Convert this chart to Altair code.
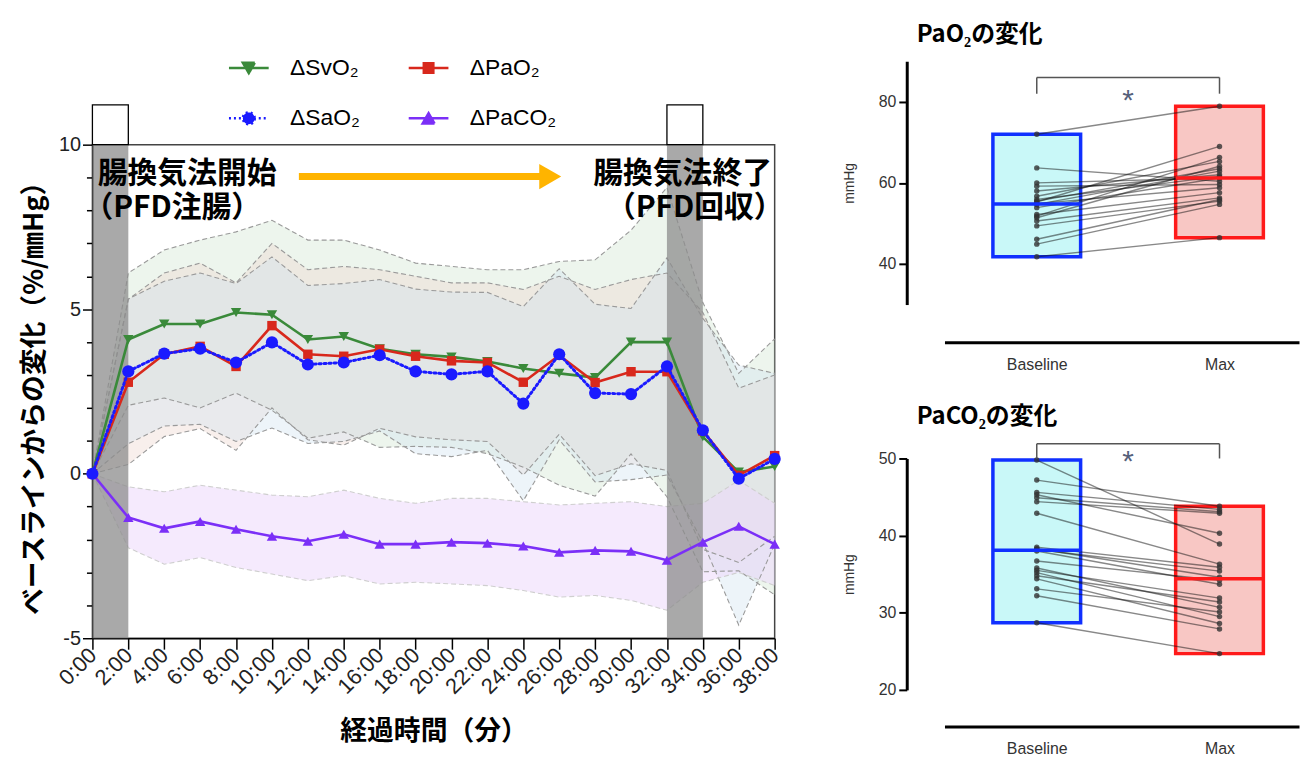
import altair as alt
import pandas as pd

JP = "Noto Sans CJK JP"

# ---------------- left chart data (change from baseline) ----------------
times = [0, 2, 4, 6, 8, 10, 12, 14, 16, 18, 20, 22, 24, 26, 28, 30, 32, 34, 36, 38]
series_names = ["ΔSvO₂", "ΔPaO₂", "ΔSaO₂", "ΔPaCO₂"]

svo2_mean = [0, 4.08, 4.55, 4.55, 4.90, 4.83, 4.08, 4.17, 3.80, 3.63, 3.55, 3.41, 3.20, 3.05, 2.92, 4.00, 4.00, 1.12, 0.05, 0.22]
svo2_upper = [0, 6.10, 6.80, 7.10, 7.35, 7.70, 7.10, 7.10, 6.80, 6.40, 6.30, 6.20, 6.20, 6.45, 6.50, 7.40, 8.70, 5.20, 3.05, 4.10]
svo2_lower = [0, 2.08, 2.30, 2.00, 2.45, 1.93, 1.08, 1.27, 0.80, 0.83, 0.80, 0.61, 0.20, -0.35, -0.68, 0.60, -0.70, -2.98, -2.95, -3.68]

pao2_mean = [0, 2.78, 3.63, 3.87, 3.26, 4.50, 3.63, 3.57, 3.78, 3.57, 3.43, 3.38, 2.78, 3.60, 2.77, 3.10, 3.10, 1.30, -0.05, 0.55]
pao2_upper = [0, 5.30, 6.10, 6.40, 5.80, 7.00, 6.20, 6.30, 6.20, 6.00, 5.80, 5.80, 5.60, 6.00, 5.60, 5.90, 6.10, 4.90, 2.60, 3.00]
pao2_lower = [0, 0.28, 1.13, 1.37, 0.71, 2.00, 1.03, 0.87, 1.38, 1.12, 1.03, 0.98, -0.04, 1.20, -0.06, 0.30, 0.10, -2.30, -2.70, -1.90]

sao2_mean = [0, 3.11, 3.65, 3.80, 3.38, 3.99, 3.32, 3.38, 3.60, 3.11, 3.02, 3.11, 2.13, 3.63, 2.45, 2.42, 3.26, 1.32, -0.15, 0.45]
sao2_upper = [0, 5.31, 5.85, 6.10, 5.78, 6.59, 5.72, 5.78, 5.90, 5.61, 5.52, 5.51, 5.08, 6.23, 5.15, 5.02, 6.56, 4.72, 3.30, 3.05]
sao2_lower = [0, 0.91, 1.45, 1.50, 0.98, 1.39, 0.92, 0.98, 1.30, 0.61, 0.52, 0.71, -0.82, 1.03, -0.25, -0.18, -0.04, -2.08, -4.60, -2.15]

paco2_mean = [0, -1.33, -1.66, -1.45, -1.69, -1.90, -2.05, -1.84, -2.14, -2.14, -2.08, -2.11, -2.20, -2.39, -2.33, -2.36, -2.63, -2.08, -1.60, -2.14]
paco2_upper = [0, -0.40, -0.55, -0.35, -0.50, -0.65, -0.70, -0.50, -0.75, -0.90, -0.75, -0.75, -0.85, -0.95, -0.90, -0.85, -1.00, -0.90, -0.20, -0.90]
paco2_lower = [0, -2.25, -2.75, -2.55, -2.85, -3.05, -3.25, -3.10, -3.35, -3.30, -3.35, -3.40, -3.55, -3.75, -3.70, -3.85, -4.15, -3.30, -3.00, -3.40]

# PFD infusion / recovery periods (minutes)
pfd_start = [0, 32]
pfd_end = [2, 34]

# ---------------- right panels data (mmHg) ----------------
pao2_baseline = [72.0, 63.7, 60.0, 59.2, 58.0, 56.7, 55.9, 55.5, 55.3, 54.9, 54.7, 53.9, 52.2, 51.8, 51.4, 50.6, 49.4, 46.1, 44.9, 41.8]
pao2_max = [78.9, 60.4, 61.2, 59.6, 62.0, 65.3, 61.6, 63.5, 69.0, 58.8, 62.9, 61.2, 57.6, 66.3, 64.1, 56.3, 55.5, 55.9, 54.7, 46.5]

paco2_baseline = [49.8, 47.2, 45.6, 45.3, 44.9, 44.4, 42.9, 38.5, 38.3, 38.2, 38.0, 36.7, 35.8, 35.5, 35.2, 34.8, 34.4, 33.1, 32.2, 28.7]
paco2_max = [38.9, 43.8, 43.4, 40.3, 43.1, 42.9, 36.3, 35.9, 34.6, 35.4, 33.7, 34.2, 30.7, 31.9, 29.5, 31.4, 28.6, 30.1, 27.9, 24.7]

# ---------------- styles ----------------
line_colors = ["#3a8a3a", "#d8281c", "#1a1aff", "#7b2ff7"]
band_fills = ["#cfe6cf", "#ecd5cc", "#cfe2ef", "#ecd9fb"]
band_opac = [0.38, 0.38, 0.38, 0.55]
band_stroke = ["#9a9a9a", "#9a9a9a", "#9a9a9a", "#cfcfcf"]
marker_shapes = ["triangle-down", "square", "circle", "triangle-up"]
marker_sizes = [110, 90, 150, 110]
legend_paths = [
    "M-1,0H1M-0.3,-0.26L0.3,-0.26L0,0.26Z",
    "M-1,0H1M-0.24,-0.24H0.24V0.24H-0.24Z",
    "M-1,0H1M0.3,0A0.3,0.3,0,1,1,-0.3,0A0.3,0.3,0,1,1,0.3,0Z",
    "M-1,0H1M-0.3,0.26L0.3,0.26L0,-0.26Z",
]
dash_styles = [[1, 0], [1, 0], [2, 3], [1, 0]]
legend_order = [0, 2, 1, 3]   # legend fills column by column

means = [svo2_mean, pao2_mean, sao2_mean, paco2_mean]
uppers = [svo2_upper, pao2_upper, sao2_upper, paco2_upper]
lowers = [svo2_lower, pao2_lower, sao2_lower, paco2_lower]

rows = []
for name, m, u, l in zip(series_names, means, uppers, lowers):
    for t, a, b, c in zip(times, m, u, l):
        rows.append({"t": t, "series": name, "mean": a, "upper": b, "lower": c})
df = pd.DataFrame(rows)
df_pfd = pd.DataFrame({"start": pfd_start, "end": pfd_end})

W_L, H_L = 687, 497

xs = alt.Scale(domain=[0, 38], nice=False, zero=False)
ys = alt.Scale(domain=[-5, 10], nice=False, zero=False)
x_axis = alt.Axis(values=times, labelExpr="datum.value + ':00'", labelAngle=-45,
                  labelAlign="right", labelBaseline="middle", labelFontSize=22,
                  labelColor="#222", labelPadding=2, labelOverlap=False,
                  tickSize=11, tickColor="black", tickWidth=1.5,
                  domainColor="black", domainWidth=1.5, grid=False,
                  titleFont=JP, titleFontSize=27, titleFontWeight="bold",
                  titleColor="black", titlePadding=21)
y_axis = alt.Axis(values=list(range(-5, 11)),
                  labelExpr="datum.value % 5 === 0 ? replace(datum.label, '\u2212', '-') : ''",
                  tickSize={"condition": {"test": "datum.value % 5 === 0", "value": 10}, "value": 6},
                  labelFontSize=20, labelColor="#222", labelPadding=2, labelOverlap=False,
                  tickColor="black", tickWidth=1.5, domainColor="black", domainWidth=1.5, grid=False,
                  titleFont=JP, titleFontSize=27, titleFontWeight="bold",
                  titleColor="black", titlePadding=10)
X_TITLE = "経過時間（分）"
Y_TITLE = "ベースラインからの変化（%/㎜Hg）"


def X(field="t"):
    return alt.X(f"{field}:Q", scale=xs, axis=x_axis, title=X_TITLE)


def Y(field):
    return alt.Y(f"{field}:Q", scale=ys, axis=y_axis, title=Y_TITLE)


def XD(v):
    return alt.X(datum=v, scale=xs, axis=x_axis, title=X_TITLE)


def YD(v):
    return alt.Y(datum=v, scale=ys, axis=y_axis, title=Y_TITLE)


base = alt.Chart(df)
layers = []
# SD bands
for name, fc, op in zip(series_names, band_fills, band_opac):
    layers.append(base.transform_filter(alt.datum.series == name)
                  .mark_area(color=fc, opacity=op)
                  .encode(x=X(), y=Y("lower"), y2="upper:Q"))
for name, sc in zip(series_names, band_stroke):
    for fld in ["upper", "lower"]:
        layers.append(base.transform_filter(alt.datum.series == name)
                      .mark_line(color=sc, strokeWidth=1.1, strokeDash=[5, 3])
                      .encode(x=X(), y=Y(fld)))

# PFD periods
pfd = alt.Chart(df_pfd)
layers.append(pfd.mark_rect(fill="#8c8c8c", opacity=0.75)
              .encode(x=X("start"), x2="end:Q", y=alt.value(0), y2=alt.value(H_L)))
layers.append(pfd.mark_rect(fill="white", stroke="black", strokeWidth=1.3)
              .encode(x=X("start"), x2="end:Q", y=alt.value(-40), y2=alt.value(0)))

# data lines and markers (purple first, then green, red, blue)
order = [3, 0, 1, 2]
for i in order:
    name = series_names[i]
    sub = base.transform_filter(alt.datum.series == name)
    if dash_styles[i] != [1, 0]:
        ln = sub.mark_line(color=line_colors[i], strokeWidth=3, strokeDash=dash_styles[i], strokeCap="round")
    else:
        ln = sub.mark_line(color=line_colors[i], strokeWidth=2.6)
    layers.append(ln.encode(x=X(), y=Y("mean")))
    layers.append(sub.mark_point(filled=True, shape=marker_shapes[i], size=marker_sizes[i],
                                 color=line_colors[i], opacity=1)
                  .encode(x=X(), y=Y("mean")))

# annotations
txt = dict(font=JP, fontSize=30, fontWeight="bold", color="black", baseline="middle")
one = alt.Chart(pd.DataFrame({"k": [0]}))
layers.append(one.mark_text(align="left", text="腸換気法開始", **txt)
              .encode(x=XD(0.3), y=YD(9.1)))
layers.append(one.mark_text(align="left", text="（PFD注腸）", **txt)
              .encode(x=XD(-0.5), y=YD(8.08)))
layers.append(one.mark_text(align="right", text="腸換気法終了", **txt)
              .encode(x=XD(37.85), y=YD(9.1)))
layers.append(one.mark_text(align="right", text="（PFD回収）", **txt)
              .encode(x=XD(38.5), y=YD(8.08)))
layers.append(one.mark_rule(color="#ffb400", strokeWidth=7)
              .encode(x=XD(11.5), x2=alt.datum(25.2), y=YD(9.03)))
layers.append(one.mark_point(shape="triangle-right", filled=True, size=650, color="#ffb400", opacity=1)
              .encode(x=XD(25.5), y=YD(9.03)))

# legend (drawn by the library from the scales)
leg = alt.Legend(title=None)
dom = [series_names[i] for i in legend_order]
col_rng = [line_colors[i] for i in legend_order]
shp_rng = [legend_paths[i] for i in legend_order]
dsh_rng = [dash_styles[i] for i in legend_order]
layers.append(base.transform_filter("false").mark_point(opacity=1, strokeWidth=2.5)
              .encode(x=X(), y=Y("mean"),
                      fill=alt.Fill("series:N", scale=alt.Scale(domain=dom, range=col_rng), legend=leg),
                      stroke=alt.Stroke("series:N", scale=alt.Scale(domain=dom, range=col_rng), legend=leg),
                      shape=alt.Shape("series:N", scale=alt.Scale(domain=dom, range=shp_rng), legend=leg),
                      strokeDash=alt.StrokeDash("series:N", scale=alt.Scale(domain=dom, range=dsh_rng), legend=leg)))

left = alt.layer(*layers).properties(width=W_L, height=H_L,
                                     view=alt.ViewBackground(stroke="#444", strokeWidth=1.5))

spacer = alt.Chart(pd.DataFrame({"k": [0]})).mark_text(text="").encode(
    x=alt.value(0), y=alt.value(0)).properties(width=W_L, height=84,
                                               view=alt.ViewBackground(stroke="transparent"))


# ---------------- right panels ----------------
def box_panel(baseline, maxv, title, domain, ticks, br_level, br_leg, star_y, height, x_off):
    r = []
    for i, (b, m) in enumerate(zip(baseline, maxv)):
        r.append({"subject": i, "group": "Baseline", "value": b})
        r.append({"subject": i, "group": "Max", "value": m})
    d = pd.DataFrame(r)
    b0 = alt.Chart(d).transform_calculate(pos="datum.group === 'Baseline' ? 0 : 1")
    sx = alt.Scale(domain=[-0.505, 1.435], nice=False, zero=False)
    ax = alt.Axis(values=[0, 1], labelExpr="datum.value === 0 ? 'Baseline' : 'Max'",
                  offset=x_off, domainWidth=3, domainColor="black", ticks=False,
                  labelFontSize=16, labelColor="#333", labelPadding=14, grid=False)
    sy = alt.Scale(domain=domain, nice=False, zero=False)
    ay = alt.Axis(values=ticks, offset=38, domainWidth=3, domainColor="black",
                  tickColor="black", tickWidth=2, tickSize=8, labelFontSize=16,
                  labelColor="#333", labelPadding=3, grid=False, titleFontSize=14,
                  titleFontWeight="normal", titleColor="#333", titlePadding=22)

    def PX(f):
        return alt.X(f"{f}:Q", scale=sx, axis=ax, title=None)

    def PY(f):
        return alt.Y(f"{f}:Q", scale=sy, axis=ay, title="mmHg")

    def PXD(v):
        return alt.X(datum=v, scale=sx, axis=ax, title=None)

    def PYD(v):
        return alt.Y(datum=v, scale=sy, axis=ay, title="mmHg")

    agg = (b0.transform_aggregate(vmin="min(value)", vmax="max(value)", vmed="median(value)", groupby=["pos"])
           .transform_calculate(x1="datum.pos - 0.24", x2="datum.pos + 0.24"))
    is_base = "datum.pos === 0"
    boxes = agg.mark_rect(strokeWidth=3.5).encode(
        x=PX("x1"), x2="x2:Q", y=PY("vmin"), y2="vmax:Q",
        fill=alt.condition(is_base, alt.value("#c9f8f8"), alt.value("#f8c7c4")),
        stroke=alt.condition(is_base, alt.value("#1030ff"), alt.value("#ff1a1a")))
    med = agg.mark_rule(strokeWidth=3.5).encode(
        x=PX("x1"), x2="x2:Q", y=PY("vmed"),
        stroke=alt.condition(is_base, alt.value("#1030ff"), alt.value("#ff1a1a")))
    lines = b0.mark_line(color="#111", opacity=0.5, strokeWidth=1.4).encode(
        x=PX("pos"), y=PY("value"), detail="subject:N")
    pts = b0.mark_circle(size=30, color="#333", opacity=0.8).encode(x=PX("pos"), y=PY("value"))
    o = alt.Chart(pd.DataFrame({"k": [0]}))
    br = o.mark_rule(color="#555", strokeWidth=1.5).encode(
        x=PXD(0), x2=alt.datum(1), y=PYD(br_level))
    legl = o.mark_rule(color="#555", strokeWidth=1.5).encode(
        x=PXD(0), y=PYD(br_level), y2=alt.datum(br_leg))
    legr = o.mark_rule(color="#555", strokeWidth=1.5).encode(
        x=PXD(1), y=PYD(br_level), y2=alt.datum(br_leg))
    star = o.mark_text(text="*", fontSize=30, color="#56607a", baseline="middle").encode(
        x=PXD(0.5), y=PYD(star_y))
    return alt.layer(boxes, lines, pts, med, br, legl, legr, star).properties(
        width=357, height=height,
        title=alt.TitleParams(title, anchor="start", frame="group", dx=-28, offset=14,
                              fontSize=24, font=JP, fontWeight="bold", color="black"),
        view=alt.ViewBackground(stroke="transparent"))


top = box_panel(pao2_baseline, pao2_max, "PaO₂の変化", [30, 90], [40, 60, 80], 86.0, 82.0, 80.3, 245, 38)
bottom = box_panel(paco2_baseline, paco2_max, "PaCO₂の変化", [20, 50], [20, 30, 40, 50], 51.9, 50.0, 49.5, 233, 37)

left_col = alt.vconcat(spacer, left, spacing=0, bounds="flush")
right_col = alt.vconcat(top, bottom, spacing=155, bounds="flush")

chart = (alt.hconcat(left_col, right_col, spacing=57)
         .properties(padding={"left": 12, "top": 12, "right": 0, "bottom": 0})
         .configure(font="Liberation Sans")
         .configure_axis(labelOverlap=False)
         .configure_legend(orient="none", legendX=136, legendY=-15, columns=2,
                           columnPadding=43, rowPadding=17, symbolSize=1600,
                           symbolStrokeWidth=2.5, labelFontSize=23, labelColor="black",
                           labelFont="Liberation Sans", labelOffset=20))

chart.save("out.html", embed_options={"renderer": "svg", "actions": False})
